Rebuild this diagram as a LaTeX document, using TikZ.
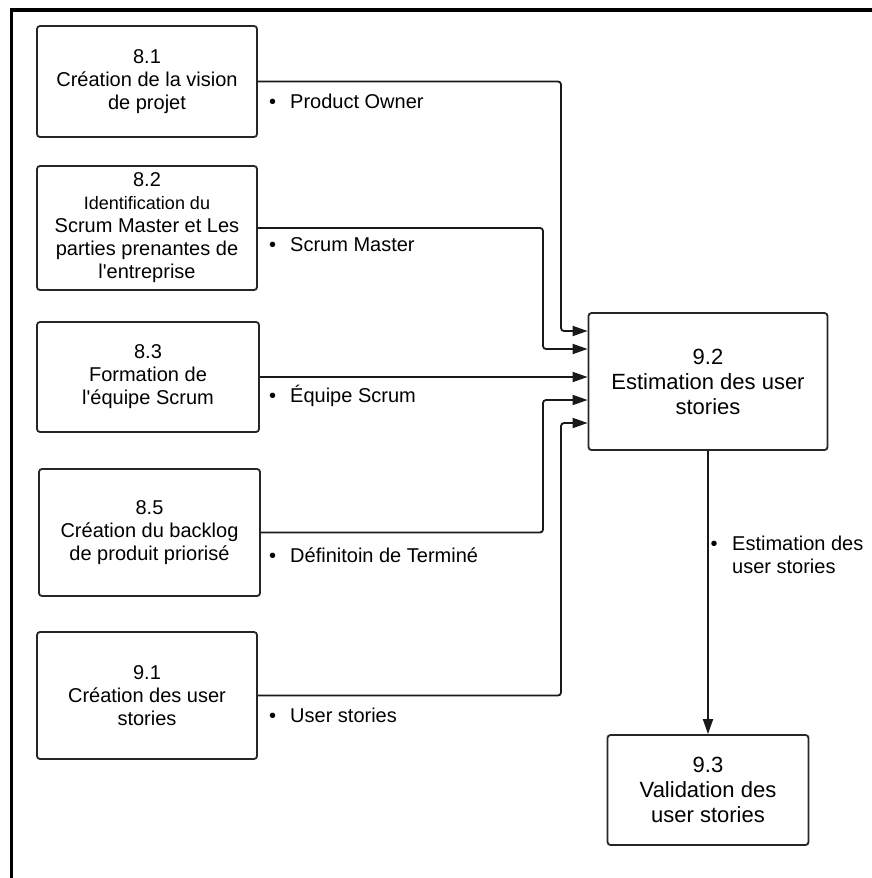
\documentclass[tikz,border=0pt]{standalone}
\usepackage{fontspec}
\setmainfont{Liberation Sans}
\usetikzlibrary{arrows.meta}
\begin{document}
\begin{tikzpicture}[x=1pt,y=-1pt,
  proc/.style={draw=black!85, line width=1.8pt, rounded corners=3pt, align=center,
    inner sep=0pt, font=\fontsize{20}{23}\selectfont},
  bigproc/.style={proc, font=\fontsize{22}{25}\selectfont},
  conn/.style={draw=black!90, line width=1.8pt, rounded corners=3pt},
  flow/.style={conn, -{Triangle[length=15pt,width=10pt]}},
  lbl/.style={anchor=base west, inner sep=0pt, align=left, font=\fontsize{20}{23}\selectfont}]
\useasboundingbox (0,0) rectangle (872,878);

% frame (top and left edges)
\draw[line width=3.5pt] (11.7,878) -- (11.7,10) -- (872,10);

% input processes
\node[proc, minimum width=220pt, minimum height=111pt] (p81) at (147,81.5)
  {8.1\\Création de la vision\\de projet};
\node[proc, minimum width=220pt, minimum height=124pt] (p82) at (147,228)
  {8.2\\{\fontsize{18}{23}\selectfont Identification du}\\Scrum Master et Les\\parties prenantes de\\l\textquotesingle entreprise};
\node[proc, minimum width=222pt, minimum height=110pt] (p83) at (148,377)
  {8.3\\Formation de\\l\textquotesingle équipe Scrum};
\node[proc, minimum width=221pt, minimum height=127pt] (p85) at (149.5,532.5)
  {8.5\\Création du backlog\\de produit priorisé};
\node[proc, minimum width=220pt, minimum height=127pt] (p91) at (147,695.5)
  {9.1\\Création des user\\stories};

% target processes
\node[bigproc, minimum width=239pt, minimum height=137pt] (p92) at (708,381.5)
  {9.2\\Estimation des user\\stories};
\node[bigproc, minimum width=201pt, minimum height=110pt] (p93) at (708,790)
  {9.3\\Validation des\\user stories};

% flows into 9.2
\draw[flow] (p81.east) -| (561,331) -- (p92.west |- 0,331);
\draw[flow] (p82.east) -| (543,349) -- (p92.west |- 0,349);
\draw[flow] (p83.east) -- (p92.west |- p83.east);
\draw[flow] (p85.east) -| (543,400) -- (p92.west |- 0,400);
\draw[flow] (p91.east) -| (561,423) -- (p92.west |- 0,423);
\draw[flow] (p92.south) -- (p93.north);

% flow labels
\node[lbl] (l81) at (269,108) {•\hspace{14pt}Product Owner};
\node[lbl] (l82) at (269,251) {•\hspace{14pt}Scrum Master};
\node[lbl] (l83) at (269,402) {•\hspace{14pt}Équipe Scrum};
\node[lbl] (l85) at (269,562) {•\hspace{14pt}Définitoin de Terminé};
\node[lbl] (l91) at (269,722) {•\hspace{14pt}User stories};
\node[lbl] (l92) at (710.5,573) {•\hspace{14.5pt}Estimation des\\\hspace{21.5pt}user stories};
\end{tikzpicture}
\end{document}
